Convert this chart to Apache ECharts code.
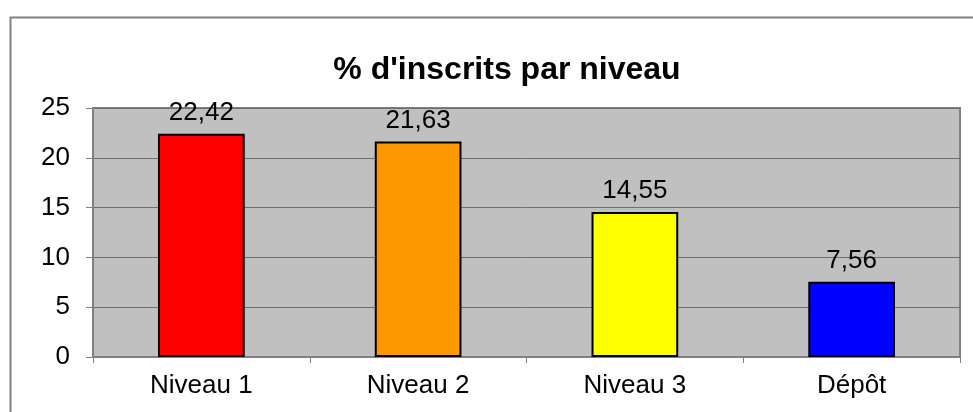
<!DOCTYPE html>
<html>
<head>
<meta charset="utf-8">
<script src="https://cdn.jsdelivr.net/npm/echarts@6/dist/echarts.min.js"></script>
<style>
  html, body { margin: 0; padding: 0; background: #fff; }
  #chart { width: 973px; height: 412px; }
</style>
</head>
<body>
<div id="chart"></div>
<script>
const categories = ['Niveau 1', 'Niveau 2', 'Niveau 3', 'Dépôt'];
const values = [22.42, 21.63, 14.55, 7.56];
const barColors = ['#FF0000', '#FF9900', '#FFFF00', '#0000FF'];

const myChart = echarts.init(document.getElementById('chart'));

const option = {
    animation: false,
    textStyle: { fontFamily: 'Liberation Sans, Arial, sans-serif' },
    title: {
        text: "% d'inscrits par niveau",
        left: 502,
        top: 49,
        textAlign: 'center',
        textStyle: {
            color: '#000',
            fontSize: 32,
            fontWeight: 'bold',
            fontFamily: 'Liberation Sans, Arial, sans-serif'
        }
    },
    graphic: [
        {
            type: 'rect',
            left: 8,
            top: 15,
            shape: { width: 1000, height: 500 },
            style: { fill: 'none', stroke: '#808080', lineWidth: 2 },
            z: -1
        }
    ],
    grid: {
        left: 93,
        right: 13,
        top: 108,
        bottom: 55,
        show: true,
        backgroundColor: '#C0C0C0',
        borderColor: '#808080',
        borderWidth: 2
    },
    xAxis: {
        type: 'category',
        data: categories,
        axisLine: { lineStyle: { color: '#808080', width: 1 } },
        axisTick: { show: true, length: 6, lineStyle: { color: '#808080' } },
        axisLabel: { color: '#000', fontSize: 26, margin: 16 }
    },
    yAxis: {
        type: 'value',
        min: 0,
        max: 25,
        interval: 5,
        axisLine: { show: true, lineStyle: { color: '#808080', width: 1 } },
        axisTick: { show: true, length: 7, lineStyle: { color: '#808080' } },
        axisLabel: { color: '#000', fontSize: 26, margin: 23 },
        splitLine: { show: true, lineStyle: { color: '#6E6E6E', width: 1 } }
    },
    series: [
        {
            type: 'bar',
            data: values.map((v, i) => ({
                value: v,
                itemStyle: { color: barColors[i] }
            })),
            barWidth: '40%',
            itemStyle: { borderColor: '#000', borderWidth: 2 },
            label: {
                show: true,
                position: 'top',
                distance: 8,
                color: '#000',
                fontSize: 26,
                formatter: (p) => p.value.toFixed(2).replace('.', ',')
            }
        }
    ]
};

myChart.setOption(option);
</script>
</body>
</html>
